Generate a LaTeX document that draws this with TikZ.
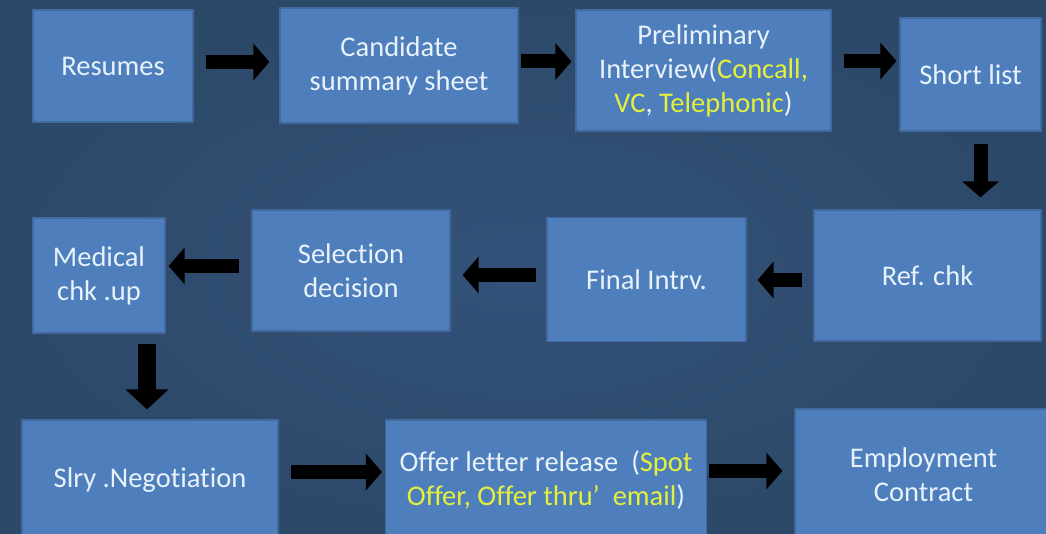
\documentclass[tikz,border=0pt]{standalone}
\usepackage{fontspec}
\setmainfont[Ligatures=NoCommon]{Carlito}
\usetikzlibrary{arrows.meta}
\definecolor{bgmid}{HTML}{33527A}
\definecolor{bgedge}{HTML}{2D4969}
\definecolor{boxfill}{HTML}{4E7FBC}
\definecolor{boxline}{HTML}{41699D}
\definecolor{txt}{HTML}{E8F2FB}
\definecolor{hl}{HTML}{E4F03C}
\tikzset{
  stage/.style={rectangle, fill=boxfill, draw=boxline, line width=1.2pt,
    text=txt, align=center, font=\fontsize{28.5}{34}\selectfont, inner sep=0pt},
  flow/.style={draw=black, line width=14pt, -{Triangle[length=16pt,width=36pt]}},
  bigflow/.style={draw=black, line width=18pt, -{Triangle[length=20pt,width=42pt]}},
}
\newcommand{\hlt}[1]{\textcolor{hl}{#1}}

\begin{document}
\begin{tikzpicture}[x=1pt,y=-1pt]
\useasboundingbox (0,0) rectangle (1046,534);
\shade[inner color=bgmid, outer color=bgedge] (0,0) rectangle (1046,534);

% first row
\node[stage, minimum width=160pt, minimum height=112pt] (res)   at (113,66)    {Resumes};
\node[stage, minimum width=238pt, minimum height=115pt] (cand)  at (399,65.5)  {Candidate\\summary sheet};
\node[stage, minimum width=255pt, minimum height=121pt] (prel)  at (703.5,70.5) {Preliminary\\Interview(\hlt{Concall,}\\\hlt{VC}, \hlt{Telephonic})};
\node[stage, minimum width=141pt, minimum height=113pt] (short) at (970.5,74.5) {Short list};

% second row
\node[stage, minimum width=227pt, minimum height=131pt] (ref)   at (927.5,275.5) {Ref. chk};
\node[stage, minimum width=199pt, minimum height=124pt] (final) at (646.5,279.5) {Final Intrv.};
\node[stage, minimum width=198pt, minimum height=121pt] (sel)   at (351,270.5)   {Selection\\decision};
\node[stage, minimum width=132pt, minimum height=115pt] (med)   at (99,275.5)    {Medical\\chk .up};

% third row
\node[stage, minimum width=256pt, minimum height=120pt] (slry)  at (150,480)   {Slry .Negotiation};
\node[stage, minimum width=321pt, minimum height=120pt] (offer) at (546,480)   {Offer letter release~~(\hlt{Spot}\\\hlt{Offer, Offer thru’~~email})};
\node[stage, minimum width=257pt, minimum height=131pt] (emp)   at (923.5,474.5) {Employment\\Contract};

% connectors
\draw[flow, shorten <=12pt, shorten >=10pt] ([yshift=4pt]res.east)   -- ([yshift=4pt]res.east -| cand.west);
\draw[flow, shorten <=2pt,  shorten >=4pt]  ([yshift=4pt]cand.east)  -- ([yshift=4pt]cand.east -| prel.west);
\draw[flow, shorten <=12pt, shorten >=3pt]  ([yshift=9.5pt]prel.east) -- ([yshift=9.5pt]prel.east -| short.west);
\draw[flow, shorten <=12pt, shorten >=12pt] ([xshift=10pt]short.south) -- ([xshift=10pt]short.south |- ref.north);
\draw[flow, shorten <=11pt, shorten >=11pt] ([yshift=-4.5pt]ref.west) -- ([yshift=-4.5pt]ref.west -| final.east);
\draw[flow, shorten <=10pt, shorten >=12pt] ([yshift=4.5pt]final.west) -- ([yshift=4.5pt]final.west -| sel.east);
\draw[flow, shorten <=12pt, shorten >=3pt]  ([yshift=4.5pt]sel.west)  -- ([yshift=4.5pt]sel.west -| med.east);
\draw[bigflow, shorten <=10pt, shorten >=10pt] ([xshift=48pt]med.south) -- ([xshift=48pt]med.south |- slry.north);
\draw[flow, shorten <=12pt, shorten >=3pt]  ([yshift=8pt]slry.east)  -- ([yshift=8pt]slry.east -| offer.west);
\draw[flow, shorten <=2pt,  shorten >=12pt] ([yshift=9pt]offer.east) -- ([yshift=9pt]offer.east -| emp.west);
\end{tikzpicture}
\end{document}
